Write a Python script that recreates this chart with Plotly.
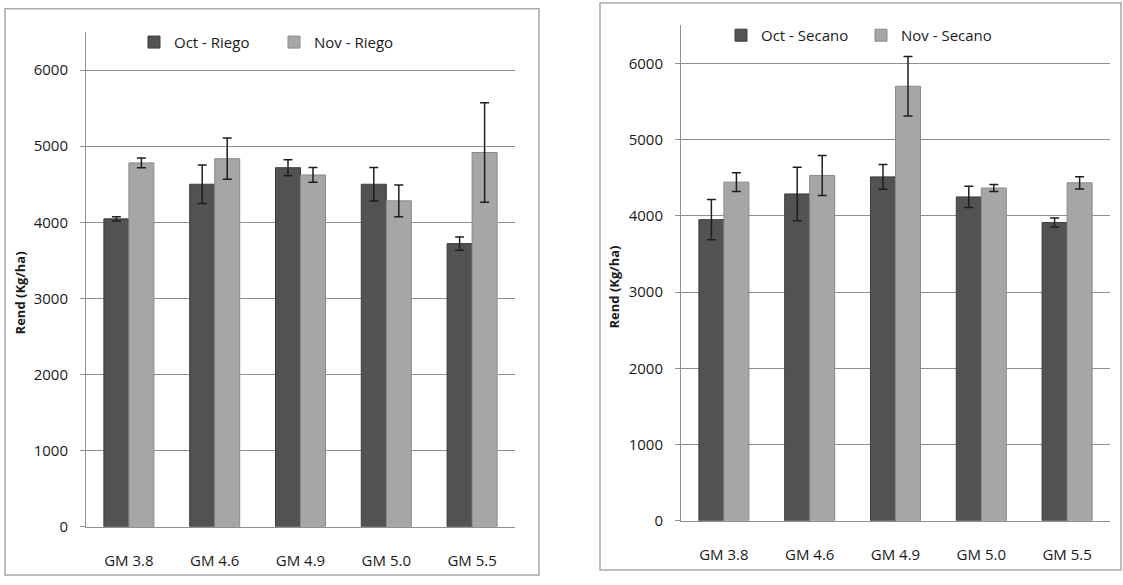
import plotly.graph_objects as go

categories = ["GM 3.8", "GM 4.6", "GM 4.9", "GM 5.0", "GM 5.5"]

oct_riego = [4045, 4500, 4717, 4500, 3720]
oct_riego_err = [28, 254, 106, 220, 88]
nov_riego = [4780, 4836, 4622, 4282, 4917]
nov_riego_err = [65, 272, 97, 209, 655]

oct_secano = [3950, 4287, 4511, 4248, 3913]
oct_secano_err = [265, 351, 162, 140, 60]
nov_secano = [4442, 4530, 5700, 4365, 4433]
nov_secano_err = [123, 263, 390, 45, 80]

y_ticks = [0, 1000, 2000, 3000, 4000, 5000, 6000]

W, H = 1123, 585
OCT_COLOR = "#525252"
NOV_COLOR = "#a6a6a6"
GRID = "#8f8f8f"
FONT = "Open Sans"
TXT = "#1a1a1a"


def px_x(v):
    return v / W


def px_y(v):
    return (H - v) / H


fig = go.Figure()


def add_bar(name, y, err, color, line_color, xa, ya, legend):
    fig.add_trace(go.Bar(
        name=name, x=categories, y=y,
        error_y=dict(type="data", array=err, visible=True, color="#1e1e1e",
                     thickness=1.5, width=4.5),
        marker=dict(color=color, line=dict(color=line_color, width=1)),
        xaxis=xa, yaxis=ya, legend=legend,
    ))


add_bar("Oct - Riego", oct_riego, oct_riego_err, OCT_COLOR, "#3c3c3c", "x", "y", "legend")
add_bar("Nov - Riego", nov_riego, nov_riego_err, NOV_COLOR, "#8a8a8a", "x", "y", "legend")
add_bar("Oct - Secano", oct_secano, oct_secano_err, OCT_COLOR, "#3c3c3c", "x2", "y2", "legend2")
add_bar("Nov - Secano", nov_secano, nov_secano_err, NOV_COLOR, "#8a8a8a", "x2", "y2", "legend2")

xaxis_common = dict(
    showline=True, linecolor=GRID, linewidth=1, showgrid=False,
    ticks="", tickfont=dict(family=FONT, size=15, color=TXT),
    ticklabelstandoff=20, fixedrange=True,
)
yaxis_common = dict(
    range=[0, 6500], tickvals=y_ticks, showline=True, linecolor=GRID, linewidth=1,
    showgrid=True, gridcolor=GRID, gridwidth=1, zeroline=False,
    ticks="outside", ticklen=5, tickcolor=GRID, tickwidth=1,
    tickfont=dict(family=FONT, size=15, color=TXT),
    ticklabelstandoff=9, fixedrange=True,
)


def legend_cfg(x, y, entrywidth):
    return dict(
        orientation="h", font=dict(family=FONT, size=15, color=TXT),
        bgcolor="rgba(0,0,0,0)", xanchor="left", yanchor="middle",
        entrywidth=entrywidth, entrywidthmode="pixels",
        x=px_x(x), y=px_y(y),
    )


fig.update_layout(
    width=W, height=H,
    margin=dict(l=0, r=0, t=0, b=0),
    paper_bgcolor="white", plot_bgcolor="white",
    barmode="group", bargap=0.417, bargroupgap=0.0,
    showlegend=True,
    xaxis=dict(domain=[px_x(86), px_x(515)], anchor="y", **xaxis_common),
    yaxis=dict(domain=[px_y(535), px_y(32.5)], anchor="x", **yaxis_common),
    xaxis2=dict(domain=[px_x(681), px_x(1110)], anchor="y2", **xaxis_common),
    yaxis2=dict(domain=[px_y(529), px_y(25.6)], anchor="x2", **yaxis_common),
    legend=legend_cfg(134, 43, 95),
    legend2=legend_cfg(721, 36, 95),
    font=dict(family=FONT),
)

# panel borders
fig.add_shape(type="rect", xref="paper", yref="paper",
              x0=px_x(5), x1=px_x(539), y0=px_y(584), y1=px_y(9),
              line=dict(color="#a8a8a8", width=1.5), fillcolor="rgba(0,0,0,0)", layer="below")
fig.add_shape(type="rect", xref="paper", yref="paper",
              x0=px_x(600), x1=px_x(1121), y0=px_y(579), y1=px_y(3),
              line=dict(color="#a8a8a8", width=1.5), fillcolor="rgba(0,0,0,0)", layer="below")

# y-axis titles
for xpos, ypos in [(20, 298), (614, 292)]:
    fig.add_annotation(text="<b>Rend (Kg/ha)</b>", xref="paper", yref="paper",
                       x=px_x(xpos), y=px_y(ypos), showarrow=False, textangle=-90,
                       font=dict(family=FONT, size=13, color=TXT),
                       xanchor="center", yanchor="middle")

fig.write_html("out.html", config={"displayModeBar": False},
               post_script="document.body.style.margin='0';")
